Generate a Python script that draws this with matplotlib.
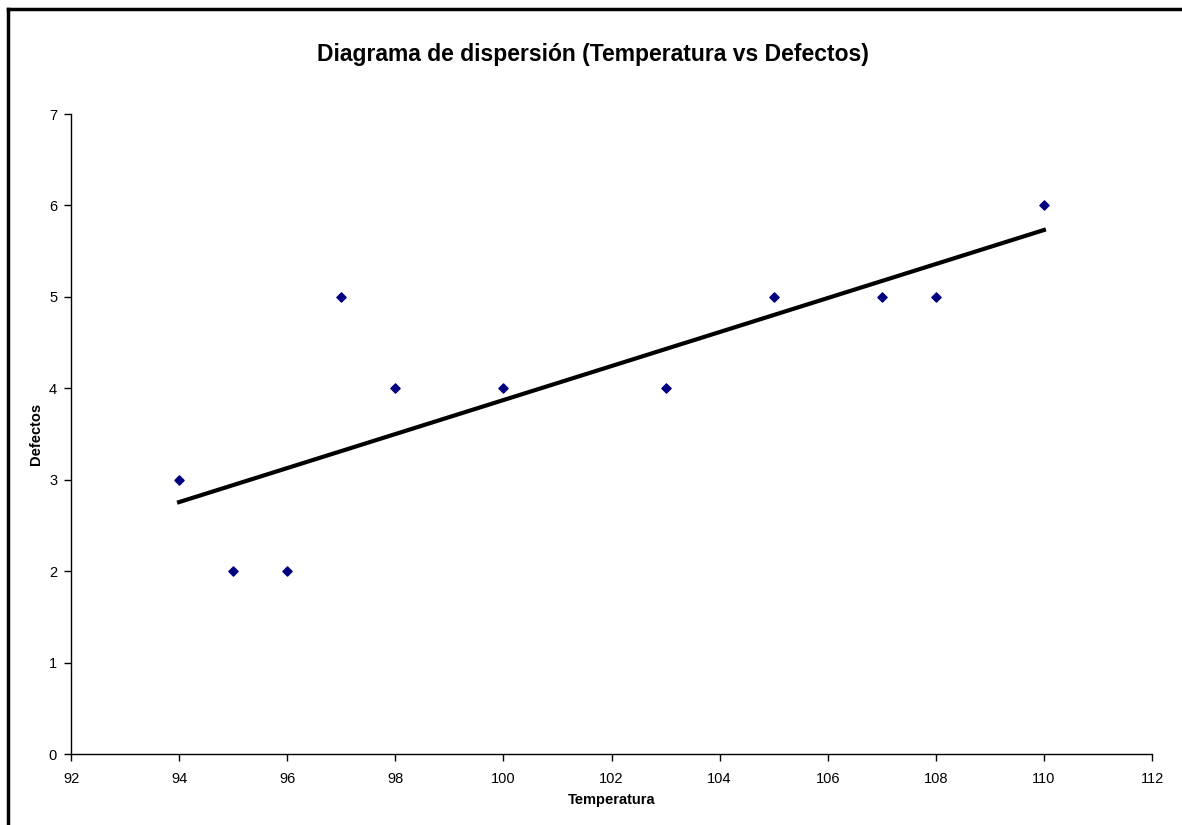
import numpy as np
import matplotlib.pyplot as plt
from matplotlib.lines import Line2D

plt.rcParams['font.family'] = ['Liberation Sans', 'DejaVu Sans']

temperatura = [94, 95, 96, 97, 98, 100, 103, 105, 107, 108, 110]
defectos = [3, 2, 2, 5, 4, 4, 4, 5, 5, 5, 6]
x_ticks = [92, 94, 96, 98, 100, 102, 104, 106, 108, 110, 112]
y_ticks = [0, 1, 2, 3, 4, 5, 6, 7]

fig = plt.figure(figsize=(11.82, 8.25), dpi=100)
ax = fig.add_axes([71 / 1182, 1 - 754 / 825, (1152 - 71) / 1182, (754 - 114) / 825])

ax.scatter(temperatura, defectos, marker='D', s=22, color='#000080', zorder=3)

# linear trend line over the data range
slope, intercept = np.polyfit(temperatura, defectos, 1)
xs = np.array([min(temperatura), max(temperatura)])
ax.plot(xs, slope * xs + intercept, color='black', linewidth=3, zorder=2)

ax.set_xlim(92, 112)
ax.set_ylim(0, 7)
ax.set_xticks(x_ticks)
ax.set_yticks(y_ticks)
ax.tick_params(direction='out', length=5, width=1, labelsize=10.5)
ax.tick_params(axis='x', pad=8)
ax.tick_params(axis='y', pad=5)
for side in ['top', 'right']:
    ax.spines[side].set_visible(False)
for side in ['left', 'bottom']:
    ax.spines[side].set_linewidth(1)

ax.set_xlabel('Temperatura', fontsize=10.5, fontweight='bold', labelpad=5)
ax.set_ylabel('Defectos', fontsize=10.5, fontweight='bold', labelpad=4)
fig.text(593 / 1182, 1 - 55 / 825, 'Diagrama de dispersión (Temperatura vs Defectos)',
         ha='center', va='center', fontsize=16.5, fontweight='bold')

# chart area frame
fig.add_artist(Line2D([8 / 1182, 1], [1 - 9 / 825, 1 - 9 / 825], color='black', linewidth=2.5,
                      transform=fig.transFigure))
fig.add_artist(Line2D([8 / 1182, 8 / 1182], [0, 1 - 9 / 825], color='black', linewidth=2.5,
                      transform=fig.transFigure))

fig.savefig('out.png', dpi=100)
